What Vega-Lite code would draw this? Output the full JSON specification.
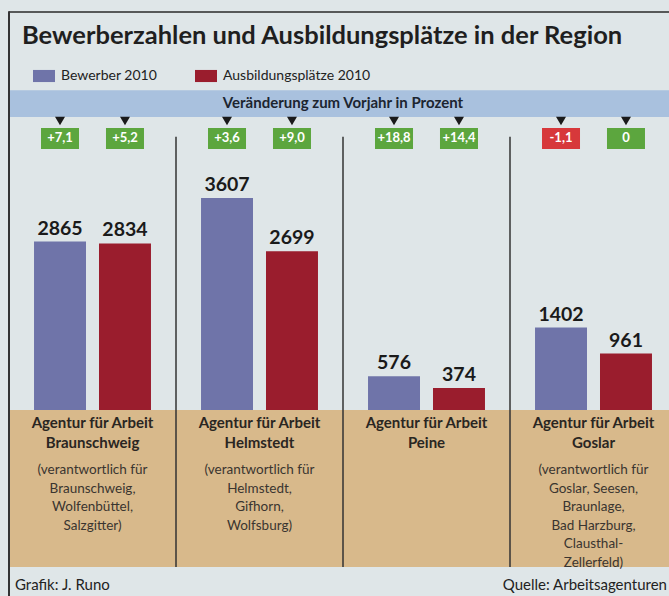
{
  "$schema": "https://vega.github.io/schema/vega-lite/v6.json",
  "width": 669,
  "height": 596,
  "autosize": {"type": "none"},
  "padding": 0,
  "background": "#dfe6e8",
  "config": {"view": {"stroke": null}, "font": "Lato"},
  "title": {
    "text": "Bewerberzahlen und Ausbildungsplätze in der Region",
    "anchor": "start",
    "font": "Lato",
    "fontSize": 25.5,
    "fontWeight": "bold",
    "color": "#1f1f1f",
    "dx": 22,
    "dy": 53
  },
  "datasets": {
    "bars": [
      {"region": "Braunschweig", "series": "Bewerber 2010", "value": 2865, "change": 7.1, "change_label": "+7,1"},
      {"region": "Braunschweig", "series": "Ausbildungsplätze 2010", "value": 2834, "change": 5.2, "change_label": "+5,2"},
      {"region": "Helmstedt", "series": "Bewerber 2010", "value": 3607, "change": 3.6, "change_label": "+3,6"},
      {"region": "Helmstedt", "series": "Ausbildungsplätze 2010", "value": 2699, "change": 9.0, "change_label": "+9,0"},
      {"region": "Peine", "series": "Bewerber 2010", "value": 576, "change": 18.8, "change_label": "+18,8"},
      {"region": "Peine", "series": "Ausbildungsplätze 2010", "value": 374, "change": 14.4, "change_label": "+14,4"},
      {"region": "Goslar", "series": "Bewerber 2010", "value": 1402, "change": -1.1, "change_label": "-1,1"},
      {"region": "Goslar", "series": "Ausbildungsplätze 2010", "value": 961, "change": 0, "change_label": "0"}
    ],
    "regions": [
      {"region": "Braunschweig", "header": "Agentur für Arbeit\nBraunschweig", "desc": "(verantwortlich für\nBraunschweig,\nWolfenbüttel,\nSalzgitter)"},
      {"region": "Helmstedt", "header": "Agentur für Arbeit\nHelmstedt", "desc": "(verantwortlich für\nHelmstedt,\nGifhorn,\nWolfsburg)"},
      {"region": "Peine", "header": "Agentur für Arbeit\nPeine", "desc": ""},
      {"region": "Goslar", "header": "Agentur für Arbeit\nGoslar", "desc": "(verantwortlich für\nGoslar, Seesen,\nBraunlage,\nBad Harzburg,\nClausthal-\nZellerfeld)"}
    ]
  },
  "layer": [
    {
      "data": {"name": "regions"},
      "mark": {"type": "rect", "color": "#d8b98b"},
      "encoding": {
        "x": {"field": "region", "type": "nominal", "axis": null,
          "scale": {"domain": ["Braunschweig", "Helmstedt", "Peine", "Goslar"], "range": [9, 677], "paddingInner": 0, "paddingOuter": 0}},
        "y": {"datum": 0, "type": "quantitative", "axis": null,
          "scale": {"domain": [-3164, 6975], "nice": false, "zero": false}},
        "y2": {"datum": -2670}
      }
    },
    {
      "data": {"name": "regions"},
      "mark": {"type": "rect", "color": "#a9c1de"},
      "encoding": {
        "x": {"field": "region", "type": "nominal"},
        "y": {"datum": 5440, "type": "quantitative"},
        "y2": {"datum": 4985}
      }
    },
    {
      "data": {"name": "regions"},
      "mark": {"type": "rect", "color": "#2a2a2a"},
      "encoding": {
        "x": {"field": "region", "type": "nominal"},
        "y": {"datum": 6785, "type": "quantitative"},
        "y2": {"datum": 6760}
      }
    },
    {
      "data": {"name": "regions"},
      "transform": [{"filter": "datum.region !== 'Braunschweig'"}],
      "mark": {"type": "rule", "color": "#333333", "strokeWidth": 1.5},
      "encoding": {
        "x": {"field": "region", "type": "nominal", "bandPosition": 0},
        "y": {"datum": 4650, "type": "quantitative"},
        "y2": {"datum": -2670}
      }
    },
    {
      "data": {"name": "regions"},
      "transform": [{"filter": "datum.region === 'Braunschweig'"}],
      "mark": {"type": "rule", "color": "#333333", "strokeWidth": 2},
      "encoding": {
        "x": {"field": "region", "type": "nominal", "bandPosition": 0},
        "y": {"datum": 6785, "type": "quantitative"},
        "y2": {"datum": -3164}
      }
    },
    {
      "data": {"name": "regions"},
      "transform": [{"filter": "datum.region === 'Peine'"}],
      "mark": {"type": "text", "font": "Lato", "fontSize": 15, "fontWeight": "bold", "color": "#1c2530", "baseline": "middle"},
      "encoding": {
        "x": {"field": "region", "type": "nominal", "bandPosition": 0},
        "y": {"datum": 5223, "type": "quantitative"},
        "text": {"value": "Veränderung zum Vorjahr in Prozent"}
      }
    },
    {
      "data": {"name": "bars"},
      "mark": {"type": "point", "shape": "triangle-down", "filled": true, "size": 100, "color": "#1a1a1a", "opacity": 1},
      "encoding": {
        "x": {"field": "region", "type": "nominal"},
        "xOffset": {"field": "series", "type": "nominal"},
        "y": {"datum": 4917, "type": "quantitative"}
      }
    },
    {
      "data": {"name": "bars"},
      "mark": {"type": "bar", "width": 38},
      "encoding": {
        "x": {"field": "region", "type": "nominal"},
        "xOffset": {"field": "series", "type": "nominal"},
        "y": {"datum": 4798, "type": "quantitative"},
        "y2": {"datum": 4440},
        "color": {"condition": {"test": "datum.change < 0", "value": "#d7383b"}, "value": "#5ca63e"}
      }
    },
    {
      "data": {"name": "bars"},
      "mark": {"type": "text", "font": "Lato", "fontSize": 13, "fontWeight": "bold", "color": "#ffffff", "baseline": "middle"},
      "encoding": {
        "x": {"field": "region", "type": "nominal"},
        "xOffset": {"field": "series", "type": "nominal"},
        "y": {"datum": 4619, "type": "quantitative"},
        "text": {"field": "change_label"}
      }
    },
    {
      "data": {"name": "bars"},
      "mark": {"type": "bar"},
      "encoding": {
        "x": {"field": "region", "type": "nominal"},
        "xOffset": {"field": "series", "type": "nominal",
          "scale": {"domain": ["Bewerber 2010", "Ausbildungsplätze 2010"], "paddingInner": 0.2, "paddingOuter": 0.385}},
        "y": {"field": "value", "type": "quantitative"},
        "color": {"field": "series", "type": "nominal",
          "scale": {"domain": ["Bewerber 2010", "Ausbildungsplätze 2010"], "range": ["#6f74a9", "#9a1d2d"]},
          "legend": {
            "orient": "none", "legendX": 33, "legendY": 65, "direction": "horizontal", "title": null,
            "symbolType": "M-1,-0.55H1V0.55H-1Z", "symbolSize": 484, "symbolStrokeWidth": 0, "symbolOpacity": 1,
            "labelFont": "Lato", "labelFontSize": 14, "labelColor": "#222222", "labelOffset": 6, "columnPadding": 37
          }}
      }
    },
    {
      "data": {"name": "bars"},
      "mark": {"type": "text", "font": "Lato", "fontSize": 19.5, "fontWeight": "bold", "color": "#1a1a1a", "baseline": "bottom", "dy": -3},
      "encoding": {
        "x": {"field": "region", "type": "nominal"},
        "xOffset": {"field": "series", "type": "nominal"},
        "y": {"field": "value", "type": "quantitative"},
        "text": {"field": "value", "type": "quantitative", "format": "d"}
      }
    },
    {
      "data": {"name": "regions"},
      "mark": {"type": "text", "font": "Lato", "fontSize": 15, "fontWeight": "bold", "color": "#2a2622", "baseline": "top", "lineBreak": "\n", "lineHeight": 19.5},
      "encoding": {
        "x": {"field": "region", "type": "nominal"},
        "y": {"datum": -102, "type": "quantitative"},
        "text": {"field": "header"}
      }
    },
    {
      "data": {"name": "regions"},
      "mark": {"type": "text", "font": "Lato", "fontSize": 13.5, "color": "#3a3530", "baseline": "top", "lineBreak": "\n", "lineHeight": 18.6},
      "encoding": {
        "x": {"field": "region", "type": "nominal"},
        "y": {"datum": -900, "type": "quantitative"},
        "text": {"field": "desc"}
      }
    },
    {
      "data": {"name": "regions"},
      "transform": [{"filter": "datum.region === 'Braunschweig'"}],
      "mark": {"type": "text", "font": "Lato", "fontSize": 15, "color": "#222222", "align": "left", "baseline": "middle", "dx": 6},
      "encoding": {
        "x": {"field": "region", "type": "nominal", "bandPosition": 0},
        "y": {"datum": -2977, "type": "quantitative"},
        "text": {"value": "Grafik: J. Runo"}
      }
    },
    {
      "data": {"name": "regions"},
      "transform": [{"filter": "datum.region === 'Goslar'"}],
      "mark": {"type": "text", "font": "Lato", "fontSize": 15, "color": "#222222", "align": "right", "baseline": "middle"},
      "encoding": {
        "x": {"field": "region", "type": "nominal", "bandPosition": 0.94},
        "y": {"datum": -2977, "type": "quantitative"},
        "text": {"value": "Quelle: Arbeitsagenturen"}
      }
    }
  ]
}
